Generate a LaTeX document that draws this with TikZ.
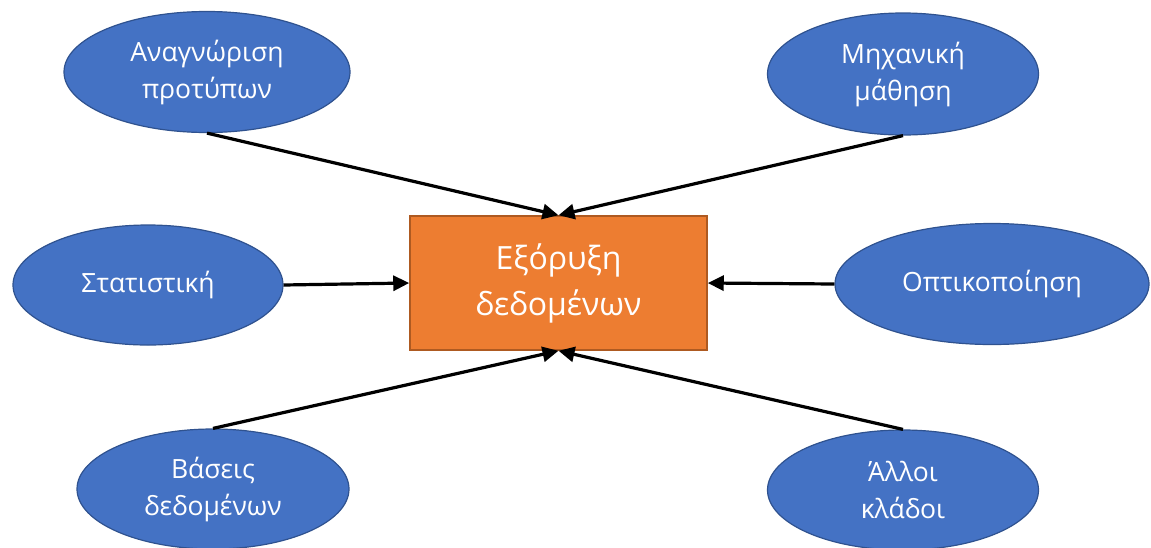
\documentclass[tikz,border=0pt]{standalone}
\usepackage{fontspec}
\setmainfont{Open Sans}
\usetikzlibrary{shapes.geometric,arrows.meta}
\definecolor{ellfill}{HTML}{4472C4}
\definecolor{elldraw}{HTML}{2F528F}
\definecolor{boxfill}{HTML}{ED7D31}
\definecolor{boxdraw}{HTML}{AE5A21}
\tikzset{
  field/.style={ellipse, fill=ellfill, draw=elldraw, line width=1.2pt, text=white,
    font=\fontsize{26.5}{37}\selectfont, align=center, inner sep=0pt},
  core/.style={rectangle, fill=boxfill, draw=boxdraw, line width=1.5pt, text=white,
    font=\fontsize{32}{46}\selectfont, align=center, inner sep=0pt},
  feed/.style={line width=3.2pt, -{Triangle[length=16pt,width=15pt]}}
}
\begin{document}
\begin{tikzpicture}[x=1pt,y=-1pt]
\useasboundingbox (0,0) rectangle (1151,547);
\node[core, minimum width=297pt, minimum height=134pt] (dm) at (558.5,283) {Εξόρυξη\\δεδομένων};
\node[field, minimum width=286pt, minimum height=121pt] (pr) at (207,72) {Αναγνώριση\\προτύπων};
\node[field, minimum width=271pt, minimum height=122pt] (ml) at (903,74) {Μηχανική\\μάθηση};
\node[field, minimum width=270pt, minimum height=120pt] (st) at (148,285) {Στατιστική};
\node[field, minimum width=314pt, minimum height=121pt] (vi) at (992,284) {Οπτικοποίηση};
\node[field, minimum width=272pt, minimum height=120pt] (db) at (213,489) {Βάσεις\\δεδομένων};
\node[field, minimum width=271pt, minimum height=120pt] (ot) at (903,490) {Άλλοι\\κλάδοι};
\draw[feed] (pr.south) -- (dm.north);
\draw[feed] (ml.south) -- (dm.north);
\draw[feed] (st.east) -- (dm.west);
\draw[feed] (vi.west) -- (dm.east);
\draw[feed] (db.north) -- (dm.south);
\draw[feed] (ot.north) -- (dm.south);
\end{tikzpicture}
\end{document}
